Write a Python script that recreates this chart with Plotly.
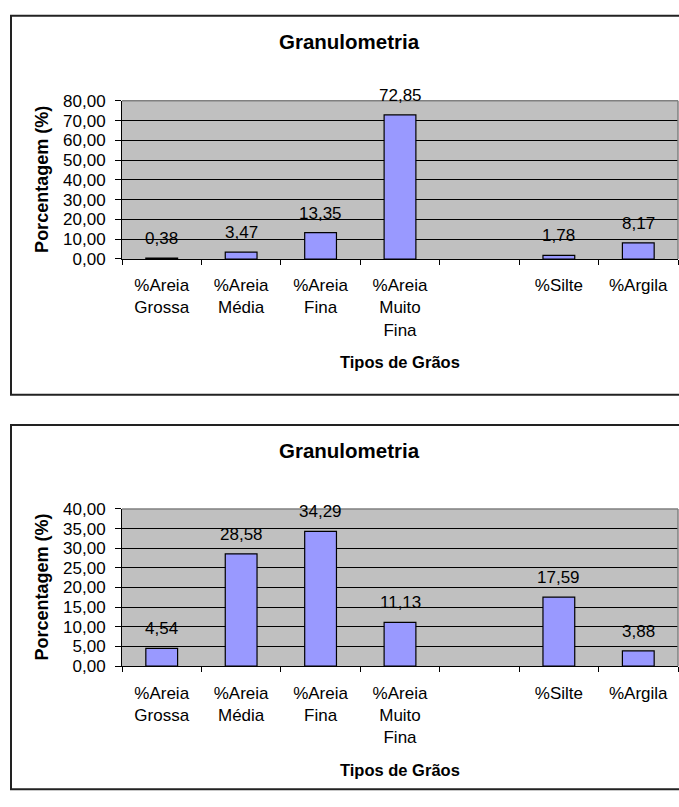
import plotly.graph_objects as go

W, H = 679, 807

# Grain-size classes and percentages for the two samples
categorias = ["%Areia<br>Grossa", "%Areia<br>Média", "%Areia<br>Fina",
              "%Areia<br>Muito<br>Fina", " ", "%Silte", "%Argila"]
amostra_1 = [0.38, 3.47, 13.35, 72.85, None, 1.78, 8.17]
amostra_2 = [4.54, 28.58, 34.29, 11.13, None, 17.59, 3.88]
ticks_1 = [0, 10, 20, 30, 40, 50, 60, 70, 80]
ticks_2 = [0, 5, 10, 15, 20, 25, 30, 35, 40]

titulo = "Granulometria"
titulo_x = "Tipos de Grãos"
titulo_y = "Porcentagem (%)"

FONT = "Liberation Sans, Arial, Helvetica, sans-serif"
BAR = "#9999FF"
PLOT_BG = "#C0C0C0"
TXT = 17


def fx(px):
    return px / W


def fy(px):
    return 1 - px / H


def br(v):
    return f"{v:.2f}".replace(".", ",")


# chart boxes in pixels: plot top / bottom, box top / bottom
charts = [
    dict(vals=amostra_1, ticks=ticks_1, top=94, bottom=256, box_top=7, box_bottom=395),
    dict(vals=amostra_2, ticks=ticks_2, top=512, bottom=673, box_top=426, box_bottom=799),
]
PLOT_L, PLOT_R = 122, 678

fig = go.Figure()
annotations = []
shapes = []

for i, c in enumerate(charts, start=1):
    sx = "" if i == 1 else str(i)
    fig.add_trace(go.Bar(
        x=categorias, y=c["vals"], xaxis="x" + sx, yaxis="y" + sx,
        marker=dict(color=BAR, line=dict(color="black", width=1.2)),
        width=0.4, hoverinfo="skip", showlegend=False,
    ))

    axis_x = dict(
        domain=[fx(PLOT_L), fx(PLOT_R)], anchor="y" + sx, type="category",
        categoryorder="array", categoryarray=categorias, range=[-0.5, 6.5],
        showline=True, linecolor="black", linewidth=1, showgrid=False,
        ticks="outside", tickson="boundaries", ticklen=5, tickcolor="black",
        tickfont=dict(family=FONT, size=TXT, color="black"),
        ticklabelstandoff=11, fixedrange=True,
    )
    tmax = c["ticks"][-1]
    axis_y = dict(
        domain=[fy(c["bottom"]), fy(c["top"])], anchor="x" + sx,
        range=[0, tmax], tickvals=c["ticks"], ticktext=[br(t) for t in c["ticks"]],
        showline=True, linecolor="black", linewidth=1,
        showgrid=True, gridcolor="black", gridwidth=1, zeroline=False,
        ticks="outside", ticklen=6, tickcolor="black",
        tickfont=dict(family=FONT, size=TXT, color="black"),
        ticklabelstandoff=6, fixedrange=True,
    )
    fig.update_layout(**{"xaxis" + sx: axis_x, "yaxis" + sx: axis_y})

    # value labels above the bars
    for cat, v in zip(categorias, c["vals"]):
        if v is None:
            continue
        annotations.append(dict(
            x=cat, y=v, xref="x" + sx, yref="y" + sx, text=br(v),
            showarrow=False, xanchor="center", yanchor="bottom", yshift=8,
            font=dict(family=FONT, size=TXT, color="black"),
        ))

    mid_y = (c["top"] + c["bottom"]) / 2
    annotations += [
        dict(x=fx(350), y=fy(c["box_top"] + 26), xref="paper", yref="paper",
             xanchor="center", yanchor="middle",
             text=f"<b>{titulo}</b>", showarrow=False,
             font=dict(family=FONT, size=20.5, color="black")),
        dict(x=fx((PLOT_L + PLOT_R) / 2), y=fy(c["bottom"] + 106), xref="paper", yref="paper",
             xanchor="center", yanchor="middle",
             text=f"<b>{titulo_x}</b>", showarrow=False,
             font=dict(family=FONT, size=16.5, color="black")),
        dict(x=fx(42), y=fy(mid_y), xref="paper", yref="paper",
             xanchor="center", yanchor="middle",
             text=f"<b>{titulo_y}</b>", showarrow=False, textangle=-90,
             font=dict(family=FONT, size=18, color="black")),
    ]

    # grey plot-area border on top and right
    shapes += [
        dict(type="line", xref="paper", yref="paper", layer="above",
             x0=fx(PLOT_L), x1=fx(PLOT_R), y0=fy(c["top"]), y1=fy(c["top"]),
             line=dict(color="#808080", width=1.5)),
        dict(type="line", xref="paper", yref="paper", layer="above",
             x0=fx(PLOT_R), x1=fx(PLOT_R), y0=fy(c["top"]), y1=fy(c["bottom"]),
             line=dict(color="#808080", width=1.5)),
    ]
    # chart frame (runs past the right edge of the page)
    shapes.append(dict(
        type="rect", xref="paper", yref="paper", layer="below",
        x0=fx(11), x1=fx(700), y0=fy(c["box_bottom"]), y1=fy(c["box_top"]),
        line=dict(color="#222222", width=2), fillcolor="rgba(0,0,0,0)",
    ))

fig.update_layout(
    width=W, height=H, margin=dict(l=0, r=0, t=0, b=0),
    paper_bgcolor="white", plot_bgcolor=PLOT_BG,
    separators=",.", showlegend=False,
    annotations=annotations, shapes=shapes,
    font=dict(family=FONT, color="black"),
)

fig.write_html("out.html", config={"displayModeBar": False})
